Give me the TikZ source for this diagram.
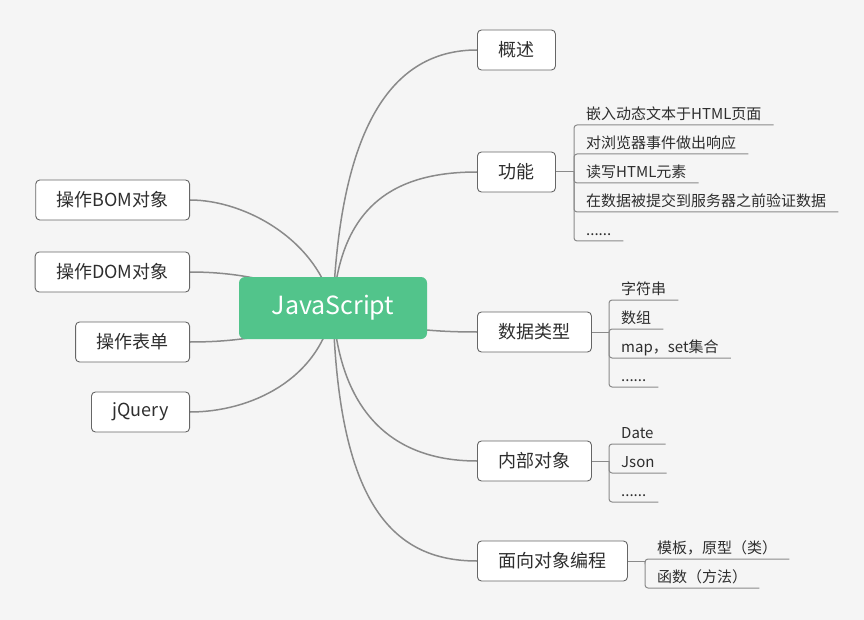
\documentclass[tikz,border=0pt]{standalone}
\usepackage{fontspec}
\setmainfont{Noto Sans CJK SC}
\usetikzlibrary{positioning}
\definecolor{paper}{HTML}{F5F5F5}
\definecolor{jsgreen}{HTML}{52C48B}
\definecolor{wire}{HTML}{8A8A8A}
\definecolor{boxline}{HTML}{666666}
\definecolor{ink}{HTML}{2E2E2E}
\pgfdeclarelayer{wires}
\pgfsetlayers{wires,main}

\begin{document}
\begin{tikzpicture}[x=1pt,y=-1pt,
  root/.style={fill=jsgreen,rounded corners=6pt,minimum width=188pt,minimum height=62pt,text=white,font=\fontsize{25}{30}\selectfont},
  topic/.style={draw=boxline,fill=white,line width=0.9pt,rounded corners=4pt,minimum height=40pt,inner xsep=21pt,text=ink,font=\fontsize{18}{22}\selectfont},
  leaf/.style={inner xsep=12pt,inner ysep=3pt,text height=11pt,text depth=2pt,text=ink,font=\fontsize{15}{18}\selectfont},
  link/.style={draw=wire,line width=1.5pt},
  twig/.style={draw=wire,line width=1pt,rounded corners=3pt}]
\useasboundingbox (0,0) rectangle (864,620);
% main topics
\node[root] (js) at (333,308) {JavaScript};
\node[topic,anchor=west] (gs) at (477,50)  {概述};
\node[topic,anchor=west] (gn) at (477,172) {功能};
\node[topic,anchor=west] (lx) at (477,332) {数据类型};
\node[topic,anchor=west] (nb) at (477,461) {内部对象};
\node[topic,anchor=west] (mx) at (477,561) {面向对象编程};
\node[topic,anchor=east] (bom) at (190,200) {操作BOM对象};
\node[topic,anchor=east] (dom) at (190,272) {操作DOM对象};
\node[topic,anchor=east] (bd)  at (190,342) {操作表单};
\node[topic,anchor=east] (jq)  at (190,412) {jQuery};

% 功能
\coordinate (gnfork) at (574,172);
\node[leaf,anchor=south west] (gn1) at (574,125) {嵌入动态文本于HTML页面};
\node[leaf,below=29pt of gn1.south west,anchor=south west] (gn2) {对浏览器事件做出响应};
\node[leaf,below=29pt of gn2.south west,anchor=south west] (gn3) {读写HTML元素};
\node[leaf,below=29pt of gn3.south west,anchor=south west] (gn4) {在数据被提交到服务器之前验证数据};
\node[leaf,below=29pt of gn4.south west,anchor=south west] (gn5) {......};

% 数据类型
\coordinate (lxfork) at (609,332);
\node[leaf,anchor=south west] (lx1) at (609,300) {字符串};
\node[leaf,below=29pt of lx1.south west,anchor=south west] (lx2) {数组};
\node[leaf,below=29pt of lx2.south west,anchor=south west] (lx3) {map，set集合};
\node[leaf,below=29pt of lx3.south west,anchor=south west] (lx4) {......};

% 内部对象
\coordinate (nbfork) at (609,461);
\node[leaf,anchor=south west] (nb1) at (609,444) {Date};
\node[leaf,below=29pt of nb1.south west,anchor=south west] (nb2) {Json};
\node[leaf,below=29pt of nb2.south west,anchor=south west] (nb3) {......};

% 面向对象编程
\coordinate (mxfork) at (645,561);
\node[leaf,anchor=south west] (mx1) at (645,559) {模板，原型（类）};
\node[leaf,below=29pt of mx1.south west,anchor=south west] (mx2) {函数（方法）};

\draw[twig] (gn) -- (gnfork);
\draw[twig] (lx) -- (lxfork);
\draw[twig] (nb) -- (nbfork);
\draw[twig] (mx) -- (mxfork);
\foreach \i in {1,...,5} \draw[twig] (gnfork) |- (gn\i.south east);
\foreach \i in {1,...,4} \draw[twig] (lxfork) |- (lx\i.south east);
\foreach \i in {1,...,3} \draw[twig] (nbfork) |- (nb\i.south east);
\foreach \i in {1,2} \draw[twig] (mxfork) |- (mx\i.south east);

\begin{pgfonlayer}{wires}
\fill[paper] (0,0) rectangle (864,620);
\draw[link] (js.center) .. controls (340,130) and (390,50) .. (gs.west);
\draw[link] (js.center) .. controls (340,205) and (395,172) .. (gn.west);
\draw[link] (js.center) .. controls (380,328) and (430,332) .. (lx.west);
\draw[link] (js.center) .. controls (340,415) and (395,461) .. (nb.west);
\draw[link] (js.center) .. controls (338,500) and (390,561) .. (mx.west);
\draw[link] (js.center) .. controls (318,240) and (245,200) .. (bom.east);
\draw[link] (js.center) .. controls (290,282) and (240,272) .. (dom.east);
\draw[link] (js.center) .. controls (290,335) and (240,342) .. (bd.east);
\draw[link] (js.center) .. controls (320,380) and (250,412) .. (jq.east);
\end{pgfonlayer}
\end{tikzpicture}
\end{document}
